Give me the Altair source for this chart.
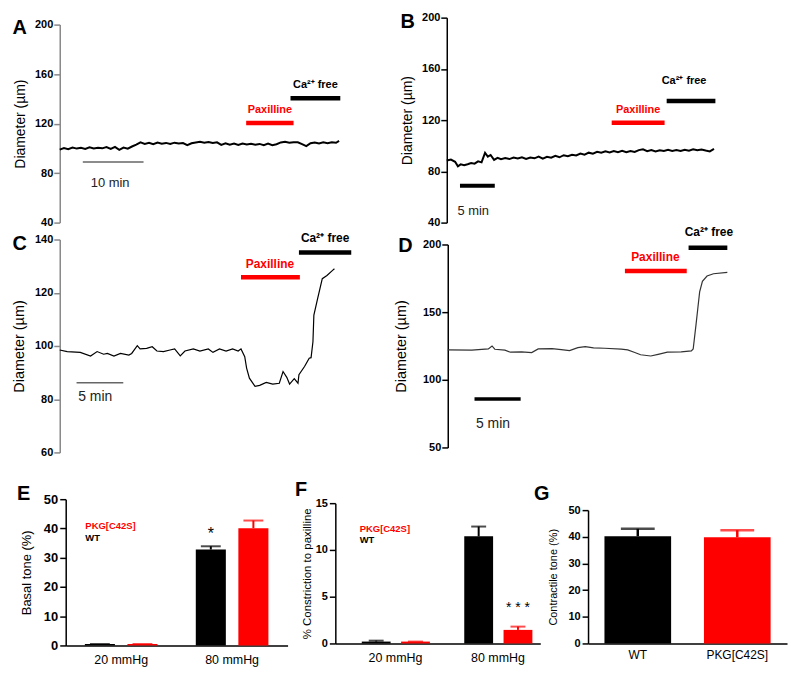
import altair as alt
import pandas as pd

FONT = "Liberation Sans"
RED = "#ff0000"

# ---------------- Panel A (diameter trace, min / µm) ----------------
A_t = [0, 0.7, 1.4, 2.1, 2.8, 3.5, 4.2, 4.9, 5.6, 6.3, 7.0, 7.7, 8.4, 9.1, 9.8, 10.5, 11.2, 11.9, 12.6, 13.3,
       14.0, 14.7, 15.4, 16.1, 16.8, 17.5, 18.2, 18.9, 19.6, 20.3, 21.0, 21.7, 22.4, 23.1, 23.8, 24.5, 25.2, 25.9,
       26.6, 27.3, 28.0, 28.7, 29.4, 30.1, 30.8, 31.5, 32.2, 32.9, 33.6, 34.3, 35.0, 35.7, 36.4, 37.1, 37.8, 38.5,
       39.2, 39.9, 40.6, 41.3, 42.0, 42.7, 43.4, 44.1, 44.8, 45.5, 46.0]
A_d = [99.0, 100.2, 99.4, 100.6, 99.8, 100.4, 99.6, 100.8, 99.9, 100.5, 100.0, 101.0, 99.5, 101.2, 98.8, 100.6, 99.7, 101.5, 103.0, 104.8,
       103.6, 104.5, 103.3, 104.7, 103.8, 104.4, 103.5, 104.6, 103.9, 104.3, 102.6, 104.1, 104.8, 105.3, 104.6, 105.2, 104.3, 104.9,
       102.8, 104.0, 102.9, 103.8, 102.7, 103.9, 103.1, 103.7, 102.9, 103.6, 102.6, 103.8, 102.5, 103.3, 104.8, 105.4, 104.6, 105.0,
       104.9, 103.4, 101.8, 104.2, 104.8, 104.0, 104.9, 104.2, 105.0, 104.5, 106.0]
A_pax = [30.7, 38.5, 120.4]
A_ca = [38.0, 46.2, 140.5]
A_scale = [3.8, 13.8, 89.0]
A_text = ["Paxilline", "Ca²⁺ free", "10 min"]
A_text_x = [34.6, 42.1, 8.3]
A_text_y = [131.0, 151.0, 72.2]
A_letter = ["A", -6.6, 197.2]

# ---------------- Panel B ----------------
B_t = [0, 0.6, 1.2, 1.6, 2.0, 2.5, 3.0, 3.5, 4.0, 4.5, 5.0, 5.5, 5.9, 6.3, 6.8, 7.3, 7.8, 8.4, 9.0, 9.6,
       10.2, 10.8, 11.4, 12.0, 12.6, 13.2, 13.8, 14.4, 15.0, 15.6, 16.2, 16.8, 17.4, 18.0, 18.6, 19.2, 19.8, 20.4,
       21.0, 21.6, 22.2, 22.8, 23.4, 24.0, 24.6, 25.2, 25.8, 26.4, 27.0, 27.6, 28.2, 28.8, 29.4, 30.0, 30.6, 31.2,
       31.8, 32.4, 33.0, 33.6, 34.2, 34.8, 35.4, 36.0, 36.6, 37.2, 37.8, 38.4]
B_d = [88.5, 89.2, 87.5, 84.0, 85.5, 84.8, 85.6, 86.5, 86.0, 87.8, 87.0, 94.5, 91.5, 92.8, 89.0, 90.6, 89.5, 90.4, 89.6, 90.8,
       90.0, 91.0, 89.7, 90.8, 90.2, 91.6, 89.9, 91.4, 90.7, 92.2, 91.0, 92.6, 91.8, 93.0, 92.4, 93.9, 93.0, 94.6,
       93.8, 95.2, 94.5, 95.6, 94.8, 95.9, 95.0, 96.0, 94.9, 95.8, 95.1, 96.6, 97.2, 95.8, 96.7, 95.6, 96.5, 95.9,
       96.8, 96.0, 96.6, 95.9, 96.9, 96.2, 97.3, 96.5, 97.1, 96.3, 95.6, 97.5]
B_pax = [23.7, 31.3, 117.9]
B_ca = [31.6, 38.6, 135.0]
B_scale = [1.9, 6.9, 68.7]
B_text = ["Paxilline", "Ca²⁺ free", "5 min"]
B_text_x = [27.5, 34.1, 3.8]
B_text_y = [127.8, 150.8, 49.3]
B_letter = ["B", -5.6, 196.9]

# ---------------- Panel C ----------------
C_t = [0, 0.8, 2.2, 3.3, 4.0, 4.7, 5.1, 5.8, 6.5, 7.4, 7.7, 8.3, 8.6, 9.3, 9.9, 10.4, 11.1, 11.8, 12.3, 12.9,
       13.4, 14.3, 15.0, 15.9, 16.4, 17.1, 17.8, 18.5, 19.1, 19.4, 19.8, 20.0, 20.3, 20.9, 21.4, 22.1, 22.8, 23.5,
       23.9, 24.3, 24.6, 25.1, 25.5, 25.6, 26.2, 26.7, 26.9, 27.1, 27.2, 27.6, 28.1, 28.6, 29.2, 29.4]
C_d = [98.5, 97.9, 97.6, 96.2, 97.9, 96.9, 97.2, 96.2, 97.2, 96.6, 97.2, 100.1, 98.9, 99.1, 99.7, 98.1, 97.9, 98.5, 98.9, 96.3,
       98.1, 98.9, 98.1, 98.9, 97.6, 98.9, 98.1, 98.9, 98.1, 98.9, 96.0, 91.7, 87.9, 84.8, 85.2, 86.3, 85.7, 86.0,
       90.4, 88.2, 85.7, 87.7, 86.0, 89.2, 92.3, 95.4, 95.6, 101.6, 111.6, 117.8, 125.3, 126.5, 128.4, 129.0]
C_pax = [19.4, 25.7, 125.8]
C_ca = [25.6, 31.2, 135.1]
C_scale = [1.8, 6.8, 86.2]
C_text = ["Paxilline", "Ca²⁺ free", "5 min"]
C_text_x = [22.5, 28.4, 3.8]
C_text_y = [130.7, 140.7, 81.0]
C_letter = ["C", -4.3, 138.3]

# ---------------- Panel D ----------------
D_t = [0, 2.6, 4.4, 4.8, 5.1, 6.2, 6.8, 8.0, 9.1, 9.8, 11.3, 12.3, 13.2, 14.1, 14.9, 15.8, 17.0, 18.8, 19.5, 20.2,
       20.9, 22.0, 22.8, 23.8, 25.3, 26.4, 26.6, 26.9, 27.1, 27.3, 27.6, 28.1, 28.8, 30.3]
D_d = [122.1, 121.9, 122.8, 125.0, 122.6, 121.9, 120.4, 120.6, 120.1, 122.8, 123.0, 122.3, 121.6, 123.8, 124.5, 123.6, 123.3, 122.6, 122.1, 120.4,
       118.5, 117.6, 118.8, 120.4, 120.6, 121.4, 122.8, 140.4, 152.7, 165.0, 172.8, 176.7, 178.4, 179.4]
D_pax = [19.2, 25.9, 180.4]
D_ca = [26.1, 30.3, 197.6]
D_scale = [2.9, 7.9, 85.8]
D_text = ["Paxilline", "Ca²⁺ free", "5 min"]
D_text_x = [22.5, 28.3, 4.9]
D_text_y = [190.4, 209.0, 67.0]
D_letter = ["D", -4.6, 198.9]

# ---------------- Bar panels ----------------
PRESSURES = ["20 mmHg", "80 mmHg"]
GENOS = ["WT", "PKG[C42S]"]
E_mean = [0.5, 0.5, 32.8, 40.1]
E_upper = [0.5, 0.5, 33.9, 42.7]
F_mean = [0.2, 0.2, 11.45, 1.45]
F_upper = [0.3, 0.2, 12.5, 1.8]
G_mean = [40.2, 39.8]
G_upper = [43.0, 42.5]
E_letter_y = 51.9
F_letter_y = 16.44
G_letter_y = 56.2

COLOR_EXPR = "datum.geno == 'WT' ? '#000000' : '#ff0000'"


def trace_panel(t, d, pax, ca, sc, texts, tx, ty, letter, xmax, ydom, yrange, yticks, width, height,
                axis_color, line_w, line_color, sc_w, sc_color, title_size, lab_size, scale_size, title_pad):
    xenc = alt.X("x:Q", axis=None, scale=alt.Scale(domain=[0, xmax], nice=False, zero=False))
    yenc = alt.Y("y:Q", title="Diameter (µm)",
                 scale=alt.Scale(domain=ydom, range=yrange, nice=False, zero=False),
                 axis=alt.Axis(values=yticks, grid=False, domainColor=axis_color, tickColor=axis_color,
                               domainWidth=1.5, tickWidth=1.5, tickSize=6, labelFontWeight="bold",
                               labelFontSize=11, labelPadding=1, labelColor="black",
                               titleFontSize=title_size, titleFontWeight="normal", titlePadding=title_pad,
                               titleColor="black"))
    line = alt.Chart(pd.DataFrame({"x": t, "y": d})).mark_line(
        color=line_color, strokeWidth=line_w).encode(x=xenc, y=yenc)
    ev = pd.DataFrame({"x": [pax[0], ca[0]], "x2": [pax[1], ca[1]], "y": [pax[2], ca[2]], "k": ["pax", "ca"]})
    rules = alt.Chart(ev).mark_rule(strokeWidth=4.5).encode(
        x=xenc, x2="x2:Q", y=yenc,
        color=alt.Color("k:N", scale=alt.Scale(domain=["pax", "ca"], range=[RED, "#000000"]), legend=None))
    scbar = alt.Chart(pd.DataFrame({"x": [sc[0]], "x2": [sc[1]], "y": [sc[2]]})).mark_rule(
        strokeWidth=sc_w, color=sc_color).encode(x=xenc, x2="x2:Q", y=yenc)
    tdf = pd.DataFrame({"x": tx, "y": ty, "label": texts, "k": ["pax", "ca", "scale"]})
    t_pax = alt.Chart(tdf).transform_filter(alt.datum.k == "pax").mark_text(
        color=RED, fontWeight="bold", fontSize=lab_size).encode(x=xenc, y=yenc, text="label:N")
    t_ca = alt.Chart(tdf).transform_filter(alt.datum.k == "ca").mark_text(
        color="black", fontWeight="bold", fontSize=lab_size).encode(x=xenc, y=yenc, text="label:N")
    t_sc = alt.Chart(tdf).transform_filter(alt.datum.k == "scale").mark_text(
        color="#222222", fontSize=scale_size).encode(x=xenc, y=yenc, text="label:N")
    ldf = pd.DataFrame({"label": [letter[0]], "x": [letter[1]], "y": [letter[2]]})
    t_let = alt.Chart(ldf).mark_text(fontSize=20, fontWeight="bold", color="black").encode(
        x=xenc, y=yenc, text="label:N")
    return alt.layer(line, rules, scbar, t_pax, t_ca, t_sc, t_let).properties(width=width, height=height)


A = trace_panel(A_t, A_d, A_pax, A_ca, A_scale, A_text, A_text_x, A_text_y, A_letter, 46.2, [40, 200], [206, 7],
                [40, 80, 120, 160, 200], 282, 206, "#888888", 2, "black", 1.5, "#666666", 14, 11, 13, 7)
B = trace_panel(B_t, B_d, B_pax, B_ca, B_scale, B_text, B_text_x, B_text_y, B_letter, 38.6, [40, 200], [206, 0],
                [40, 80, 120, 160, 200], 270, 206, "black", 2, "black", 4, "black", 14, 11, 13, 7)
C = trace_panel(C_t, C_d, C_pax, C_ca, C_scale, C_text, C_text_x, C_text_y, C_letter, 31.2, [60, 140], [214, 0],
                [60, 80, 100, 120, 140], 293, 214, "#888888", 1.2, "black", 1.5, "#666666", 14.5, 12, 14, 8)
D = trace_panel(D_t, D_d, D_pax, D_ca, D_scale, D_text, D_text_x, D_text_y, D_letter, 30.3, [50, 200], [209, 5],
                [50, 100, 150, 200], 281, 209, "black", 1.2, "#333333", 3.5, "black", 14.5, 12, 14, 14)


def y_axis(title, ticks, title_size, label_size, title_pad, offset=0):
    return alt.Axis(values=ticks, grid=False, domainColor="black", tickColor="black", domainWidth=1.5,
                    tickWidth=1.5, tickSize=6, labelFontWeight="bold", labelFontSize=label_size,
                    labelPadding=2, labelColor="black", titleFontSize=title_size,
                    titleFontWeight="normal", titlePadding=title_pad, titleColor="black", offset=offset)


col = alt.Color("c:N", scale=None, legend=None)


def grouped_panel(means, uppers, title, ydom, yrange, ticks, width, height, xrange, yoffset, xlabel_offset,
                  title_size, label_size, title_pad,
                  xo_scale, cap, legend_y, legend_dx, star, star_geno, star_y, star_size,
                  letter, letter_dx, letter_y):
    df = pd.DataFrame({"group": [PRESSURES[0]] * 2 + [PRESSURES[1]] * 2, "geno": GENOS * 2,
                       "mean": means, "upper": uppers})
    xenc = alt.X("group:N", sort=PRESSURES, scale=alt.Scale(paddingInner=0, paddingOuter=0, range=xrange),
                 axis=alt.Axis(title=None, labelAngle=0, ticks=False, domainColor="black", domainWidth=1.5,
                               labelFontSize=12.5, labelPadding=8, labelColor="black",
                               labelOffset=xlabel_offset))
    xo = alt.XOffset("geno:N", sort=GENOS, scale=xo_scale)

    def Y(field):
        return alt.Y(field, type="quantitative", title=title,
                     scale=alt.Scale(domain=ydom, range=yrange, nice=False, zero=True),
                     axis=y_axis(title, ticks, title_size, label_size, title_pad, yoffset))
    base = alt.Chart(df).transform_calculate(c=COLOR_EXPR)
    bars = base.mark_bar().encode(x=xenc, xOffset=xo, y=Y("mean"), color=col)
    err = base.mark_rule(strokeWidth=2).encode(x=xenc, xOffset=xo, y=Y("mean"), y2="upper:Q", color=col)
    caps = base.mark_tick(thickness=2, size=cap).encode(x=xenc, xOffset=xo, y=Y("upper"), color=col)
    leg = pd.DataFrame({"group": [PRESSURES[0]] * 2, "geno": ["PKG[C42S]", "WT"], "upper": legend_y,
                        "label": ["PKG[C42S]", "WT"]})
    legt = alt.Chart(leg).transform_calculate(c=COLOR_EXPR).mark_text(
        align="left", dx=legend_dx, fontWeight="bold", fontSize=9.5).encode(
        x=xenc, y=Y("upper"), text="label:N", color=col)
    sd = pd.DataFrame({"group": [PRESSURES[1]], "geno": [star_geno], "upper": [star_y], "label": [star]})
    st = alt.Chart(sd).mark_text(fontSize=star_size, color="black").encode(
        x=xenc, xOffset=xo, y=Y("upper"), text="label:N")
    ld = pd.DataFrame({"group": [PRESSURES[0]], "upper": [letter_y], "label": [letter]})
    lt = alt.Chart(ld).mark_text(fontSize=20, fontWeight="bold", color="black", dx=letter_dx).encode(
        x=xenc, y=Y("upper"), text="label:N")
    return alt.layer(bars, err, caps, legt, st, lt).properties(width=width, height=height)


E = grouped_panel(E_mean, E_upper, "Basal tone (%)", [0, 50], [147, 0], [0, 10, 20, 30, 40, 50], 229, 147,
                  [6, 229], -6, 0, 13, 13, 10, alt.Scale(paddingInner=0.294, paddingOuter=0.45),
                  20, [40.9, 36.7], -36, "*", "WT", 38.2, 16, "E", -98, E_letter_y)
F = grouped_panel(F_mean, F_upper, "% Constriction to paxilline", [0, 15], [145, 4], [0, 5, 10, 15], 206, 145,
                  [0, 206], 0, 9, 11.5, 11, 3, alt.Scale(paddingInner=0.266, paddingOuter=0.437, align=0.77), 15,
                  [12.2, 11.1], -27, "*  *  *", "PKG[C42S]", 3.75, 14, "F", -86, F_letter_y)

gdf = pd.DataFrame({"geno": GENOS, "mean": G_mean, "upper": G_upper})
gx = alt.X("geno:N", sort=GENOS, scale=alt.Scale(paddingInner=0.33, paddingOuter=0.165),
           axis=alt.Axis(title=None, labelAngle=0, ticks=False, domainColor="black", domainWidth=1.5,
                         labelFontSize=12, labelPadding=6, labelColor="black"))


def GY(field):
    return alt.Y(field, type="quantitative", title="Contractile tone (%)",
                 scale=alt.Scale(domain=[0, 50], range=[145, 11], nice=False),
                 axis=y_axis("Contractile tone (%)", [0, 10, 20, 30, 40, 50], 11, 11, 9))


gbase = alt.Chart(gdf).transform_calculate(c=COLOR_EXPR)
gld = pd.DataFrame({"geno": ["WT"], "upper": [G_letter_y], "label": ["G"]})
G = alt.layer(
    gbase.mark_bar().encode(x=gx, y=GY("mean"), color=col),
    gbase.mark_rule(strokeWidth=2.5).encode(x=gx, y=GY("mean"), y2="upper:Q", color=col),
    gbase.mark_tick(thickness=2.5, size=34).encode(x=gx, y=GY("upper"), color=col),
    alt.Chart(gld).mark_text(fontSize=20, fontWeight="bold", color="black", dx=-96.5).encode(
        x=gx, y=GY("upper"), text="label:N"),
).properties(width=200, height=145)

row1 = alt.hconcat(A, B, spacing=107, bounds="flush")
row2 = alt.hconcat(C, D, spacing=97, bounds="flush")
row3 = alt.hconcat(E, F, G, spacing=48, bounds="flush").resolve_scale(xOffset="independent")

chart = alt.vconcat(alt.vconcat(row1, row2, spacing=-2), row3, spacing=22).properties(
    padding={"left": 3, "top": 1, "right": 5, "bottom": 5}
).configure(font=FONT).configure_view(stroke=None)

chart.save("out.html", embed_options={"renderer": "svg", "actions": False})
